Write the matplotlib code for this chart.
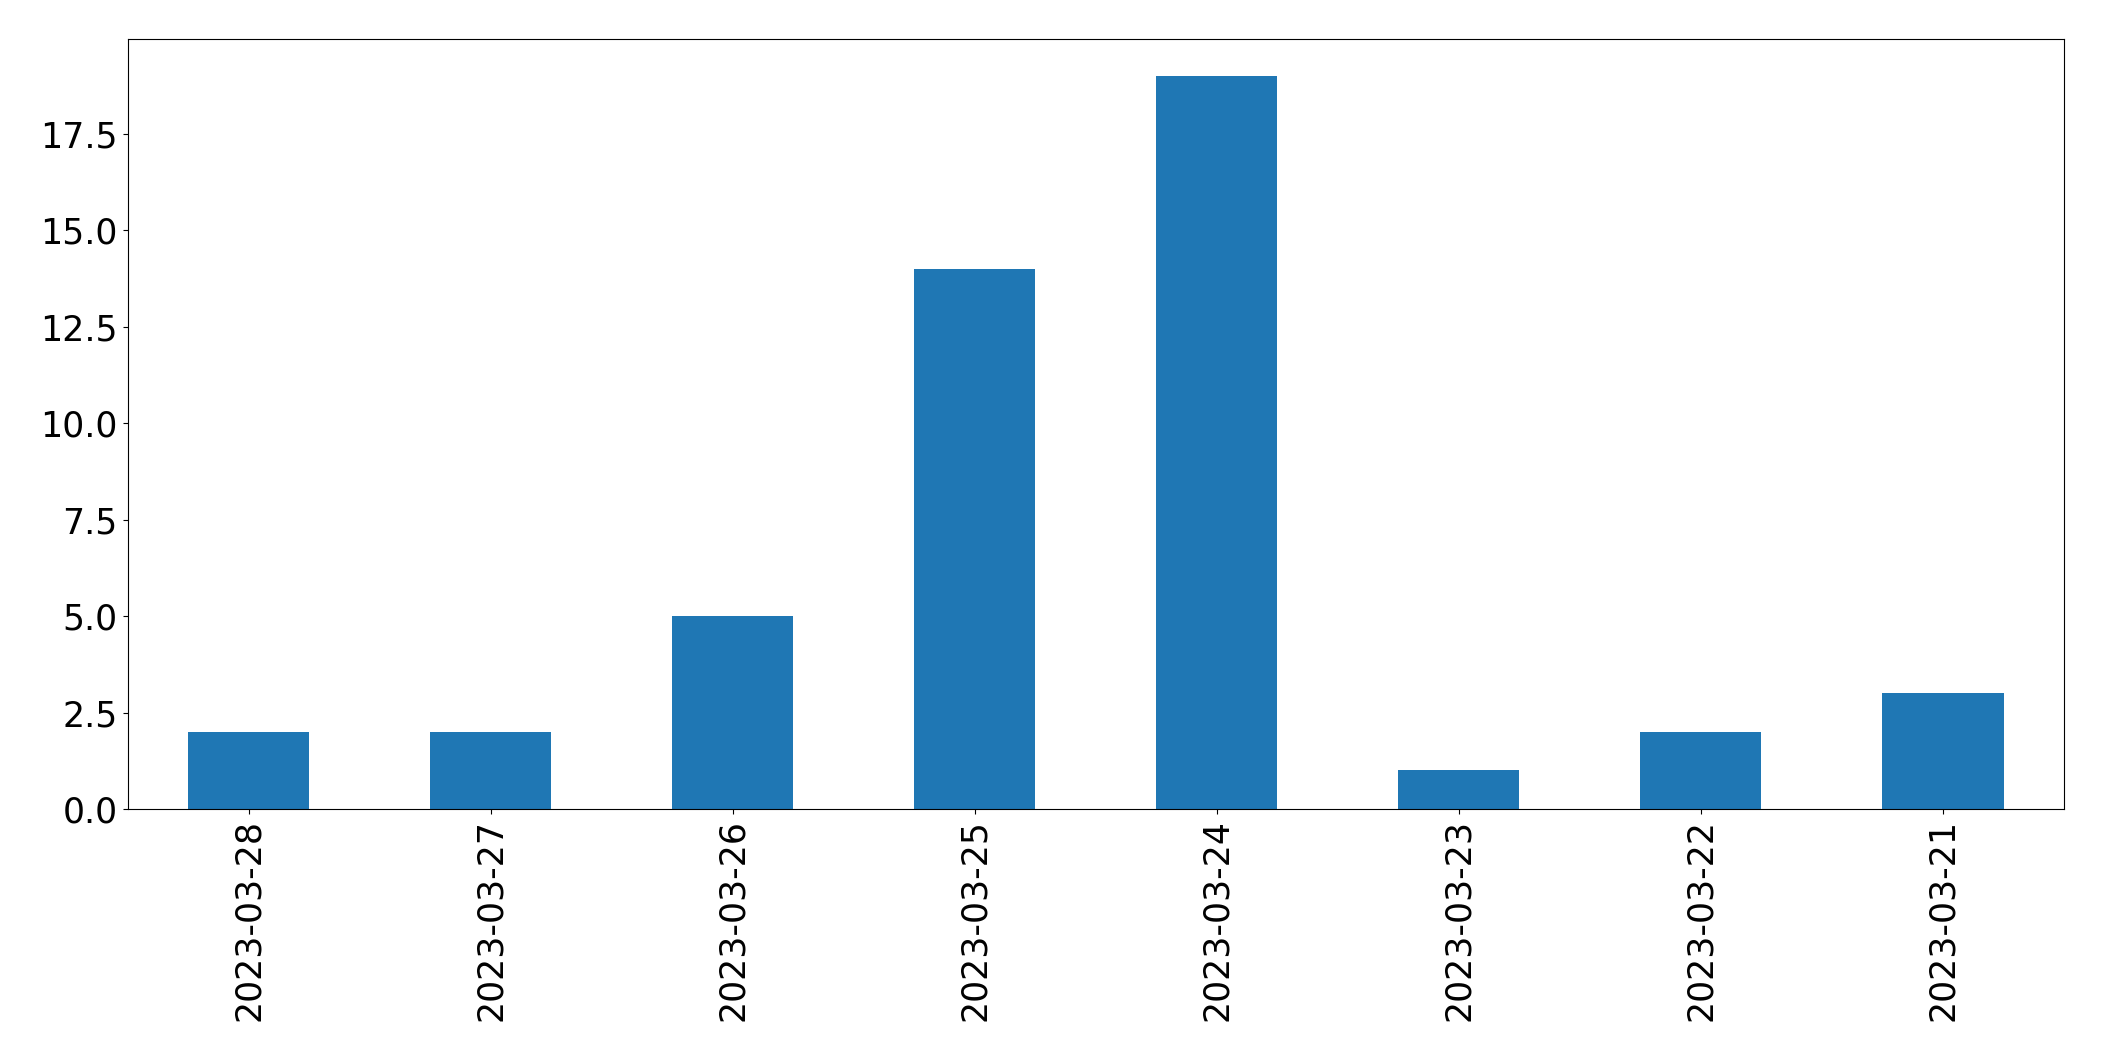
import matplotlib
matplotlib.use("Agg")
import matplotlib.pyplot as plt
import numpy as np

dates = ['2023-03-28', '2023-03-27', '2023-03-26', '2023-03-25',
         '2023-03-24', '2023-03-23', '2023-03-22', '2023-03-21']
counts = [2, 2, 5, 14, 19, 1, 2, 3]

fig = plt.figure(figsize=(21.04, 10.61), dpi=100)
ax = fig.add_axes([0.0606, 0.2375, 0.9204, 0.7255])

x = np.arange(len(dates))
ax.bar(x, counts, width=0.5, color='#1f77b4')
ax.set_xlim(-0.5, len(dates) - 0.5)
ax.set_xticks(x)
ax.set_xticklabels(dates, rotation=90)
ax.tick_params(labelsize=25)

fig.savefig('out.png', dpi=100)
